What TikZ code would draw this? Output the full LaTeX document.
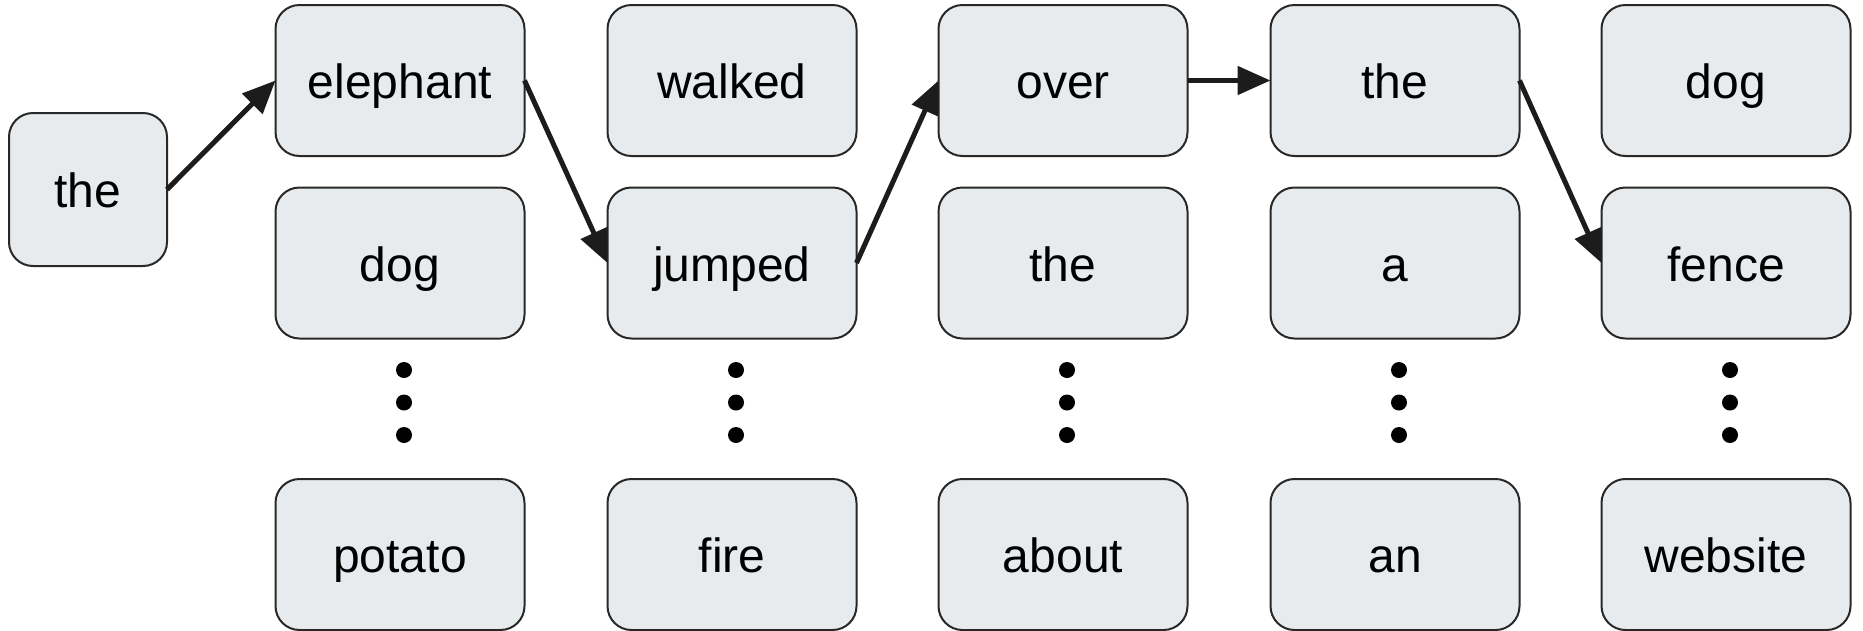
\documentclass[tikz,border=0pt]{standalone}
\usepackage{fontspec}
\setmainfont{Liberation Sans}
\usetikzlibrary{arrows.meta}
\definecolor{boxfill}{RGB}{232,235,237}
\definecolor{boxline}{RGB}{40,40,40}
\definecolor{arrowcol}{RGB}{28,28,28}

\begin{document}
\begin{tikzpicture}[x=1pt,y=-1pt,
  word/.style={draw=boxline, fill=boxfill, line width=2pt, rounded corners=24pt,
    minimum width=249pt, minimum height=151pt, inner sep=0pt, outer sep=0pt,
    font=\fontsize{48}{58}\selectfont, text height=36pt, text depth=0pt},
  link/.style={draw=arrowcol, line width=5pt, -{Triangle[length=33pt,width=28pt]}},
  vdot/.style={circle, fill=black, minimum size=16pt, inner sep=0pt}]
\useasboundingbox (0,0) rectangle (1863,630);

% start word
\node[word, minimum width=158pt, minimum height=153pt] (w0) at (88,189.5) {the};

% candidate columns
\node[word] (a1) at (400,80.5) {elephant};
\node[word] (a2) at (400,263) {dog};
\node[word] (a3) at (400,554.5) {potato};

\node[word] (b1) at (732,80.5) {walked};
\node[word] (b2) at (732,263) {jumped};
\node[word] (b3) at (732,554.5) {fire};

\node[word] (c1) at (1063,80.5) {over};
\node[word] (c2) at (1063,263) {the};
\node[word] (c3) at (1063,554.5) {about};

\node[word] (d1) at (1395,80.5) {the};
\node[word] (d2) at (1395,263) {a};
\node[word] (d3) at (1395,554.5) {an};

\node[word] (e1) at (1726,80.5) {dog};
\node[word] (e2) at (1726,263) {fence};
\node[word] (e3) at (1726,554.5) {website};

% vertical ellipses between the second and last rows
\foreach \x/\n in {404/a,736/b,1067/c,1399/d,1730/e}{
  \node[vdot] (\n dot1) at (\x,370) {};
  \node[vdot] (\n dot2) at (\x,402.5) {};
  \node[vdot] (\n dot3) at (\x,435) {};
}

% chosen path
\draw[link] (w0.east) -- (a1.west);
\draw[link] (a1.east) -- (b2.west);
\draw[link] (b2.east) -- (c1.west);
\draw[link] (c1.east) -- (d1.west);
\draw[link] (d1.east) -- (e2.west);
\end{tikzpicture}
\end{document}
